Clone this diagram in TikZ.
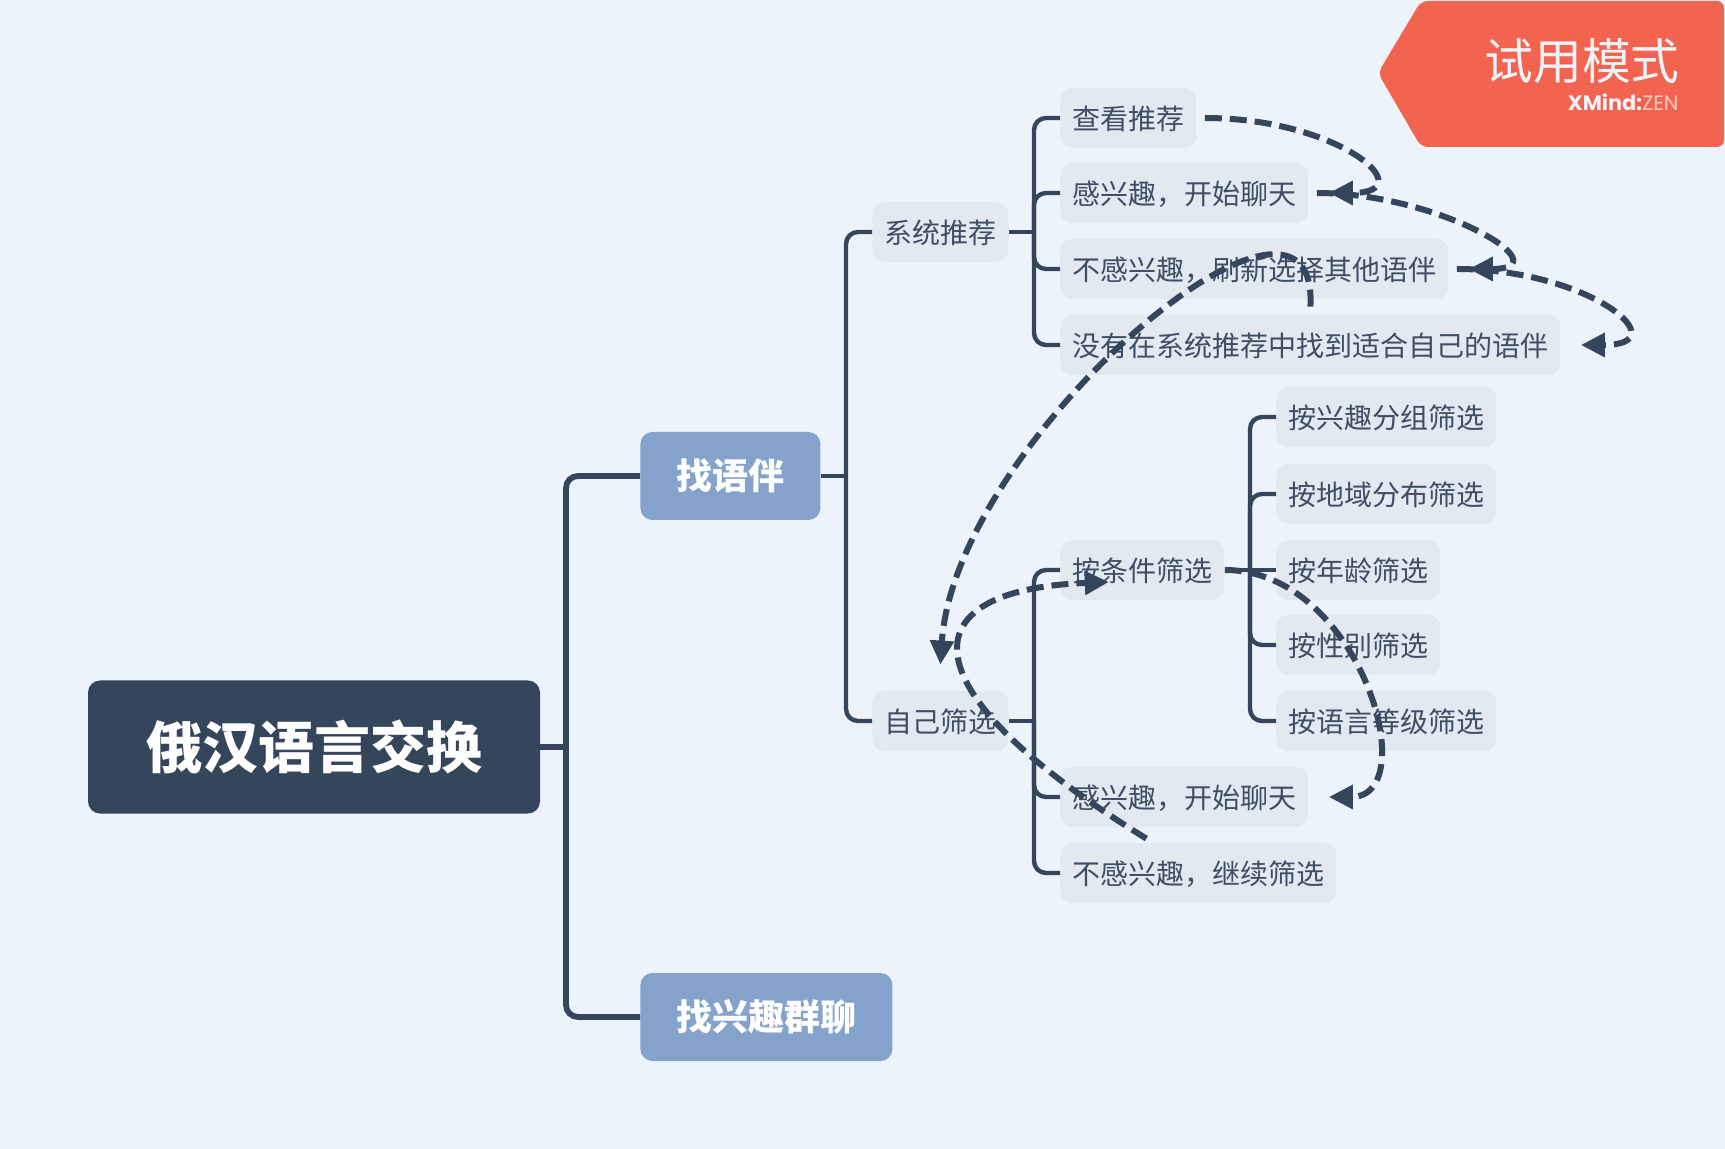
\documentclass[tikz,border=0pt]{standalone}
\usepackage{fontspec}
\setmainfont{Noto Sans CJK SC}
\newfontfamily\latinwm{Poppins}
\usetikzlibrary{arrows.meta,calc}
\definecolor{bgc}{HTML}{ECF3FA}
\definecolor{darkc}{HTML}{35465C}
\definecolor{subc}{HTML}{85A2CC}
\definecolor{leafc}{HTML}{E2E9F1}
\definecolor{leaft}{HTML}{3F4E63}
\definecolor{wmc}{HTML}{F26450}
\definecolor{wmt}{HTML}{EEF3F8}
\definecolor{wmz}{HTML}{F9C9C0}
\tikzset{
  rootbox/.style={fill=darkc,rounded corners=6pt,text=white,font=\fontsize{28pt}{30pt}\selectfont\bfseries,minimum width=226pt,minimum height=66.5pt,inner sep=0pt},
  subbox/.style={fill=subc,rounded corners=6pt,text=white,font=\fontsize{18pt}{20pt}\selectfont\bfseries,inner xsep=18pt,inner ysep=0pt,minimum height=44pt,anchor=west},
  leafbox/.style={fill=leafc,rounded corners=6pt,text=leaft,font=\fontsize{14pt}{16pt}\selectfont,inner xsep=6pt,inner ysep=0pt,minimum height=30pt,anchor=west,text height=12pt,text depth=0.4pt},
  lineA/.style={draw=darkc,line width=2.9pt,rounded corners=6pt},
  lineB/.style={draw=darkc,line width=2.2pt,rounded corners=6pt},
  rel/.style={draw=darkc,line width=3pt,dash pattern=on 8.5pt off 4pt,-{Triangle[length=12pt,width=11.5pt]}}
}
\begin{document}
\begin{tikzpicture}[x=0.5pt,y=-0.5pt]
\useasboundingbox (0,0) rectangle (1725,1149);
\fill[bgc] (0,0) rectangle (1725,1149);
% watermark
\fill[wmc,rounded corners=3.5pt] (1378,73) -- (1421,1) -- (1724,1) -- (1724,147) -- (1421,147) -- cycle;
\node[text=wmt,anchor=east,inner sep=0pt,font=\fontsize{24.4pt}{26pt}\selectfont] (wm) at (1680,61) {试用模式};
\node[anchor=east,inner sep=0pt,font=\fontsize{10.4pt}{12pt}\latinwm] (wmx) at (1679,102) {\textcolor{wmt}{\bfseries XMind:}\textcolor{wmz}{ZEN}};
% nodes
\node[rootbox] (root) at (314,747) {俄汉语言交换};
\node[subbox] (find) at (640,476) {找语伴};
\node[subbox] (group) at (640,1017) {找兴趣群聊};
\node[leafbox] (sys) at (872,232) {系统推荐};
\node[leafbox] (self) at (872,721) {自己筛选};
\node[leafbox] (a1) at (1060,118) {查看推荐};
\node[leafbox] (a2) at (1060,193) {感兴趣，开始聊天};
\node[leafbox] (a3) at (1060,269) {不感兴趣，刷新选择其他语伴};
\node[leafbox] (a4) at (1060,345) {没有在系统推荐中找到适合自己的语伴};
\node[leafbox] (b1) at (1060,570) {按条件筛选};
\node[leafbox] (b2) at (1060,797) {感兴趣，开始聊天};
\node[leafbox] (b3) at (1060,873) {不感兴趣，继续筛选};
\node[leafbox] (c1) at (1276,417) {按兴趣分组筛选};
\node[leafbox] (c2) at (1276,494) {按地域分布筛选};
\node[leafbox] (c3) at (1276,570) {按年龄筛选};
\node[leafbox] (c4) at (1276,645) {按性别筛选};
\node[leafbox] (c5) at (1276,721) {按语言等级筛选};
% junctions
\coordinate (j0) at (566,747);
\coordinate (j1) at (846,476);
\coordinate (j2) at (1034,232);
\coordinate (j3) at (1034,721);
\coordinate (j4) at (1250,570);
% tree lines
\draw[lineA] (root.east) -- (j0);
\draw[lineA] (j0) |- (find.west);
\draw[lineA] (j0) |- (group.west);
\draw[lineB] (find.east) -- (j1);
\draw[lineB] (j1) |- (sys.west);
\draw[lineB] (j1) |- (self.west);
\draw[lineB] (sys.east) -- (j2);
\draw[lineB] (j2) |- (a1.west);
\draw[lineB] (j2) |- (a2.west);
\draw[lineB] (j2) |- (a3.west);
\draw[lineB] (j2) |- (a4.west);
\draw[lineB] (self.east) -- (j3);
\draw[lineB] (j3) |- (b1.west);
\draw[lineB] (j3) |- (b2.west);
\draw[lineB] (j3) |- (b3.west);
\draw[lineB] (b1.east) -- (j4);
\draw[lineB] (j4) |- (c1.west);
\draw[lineB] (j4) |- (c2.west);
\draw[lineB] (j4) -- (c3.west);
\draw[lineB] (j4) |- (c4.west);
\draw[lineB] (j4) |- (c5.west);
% relationship curves
\coordinate (r1s) at ([xshift=4pt]a1.east);
\coordinate (r1e) at ([xshift=10pt]a2.east);
\coordinate (r2s) at ([xshift=4pt]a2.east);
\coordinate (r2e) at ([xshift=10pt]a3.east);
\coordinate (r3s) at ([xshift=4pt]a3.east);
\coordinate (r3e) at ([xshift=10pt]a4.east);
\coordinate (r4s) at ([yshift=4pt]a4.north);
\coordinate (r4e) at ([yshift=13pt]self.north);
\coordinate (r5s) at ([shift={(-26pt,2pt)}]b3.north);
\coordinate (r5e) at ([shift={(-58pt,-6pt)}]b1.east);
\coordinate (r6s) at (b1.east);
\coordinate (r6e) at ([xshift=10pt]b2.east);
\draw[rel] (r1s) .. controls (1340,118) and (1425,193) .. (r1e);
\draw[rel] (r2s) .. controls (1440,193) and (1565,269) .. (r2e);
\draw[rel] (r3s) .. controls (1590,269) and (1680,345) .. (r3e);
\draw[rel] (r4s) .. controls (1320,130) and (955,440) .. (r4e);
\draw[rel] (r5s) .. controls (905,690) and (905,590) .. (r5e);
\draw[rel] (r6s) .. controls (1360,570) and (1425,797) .. (r6e);
\end{tikzpicture}
\end{document}
